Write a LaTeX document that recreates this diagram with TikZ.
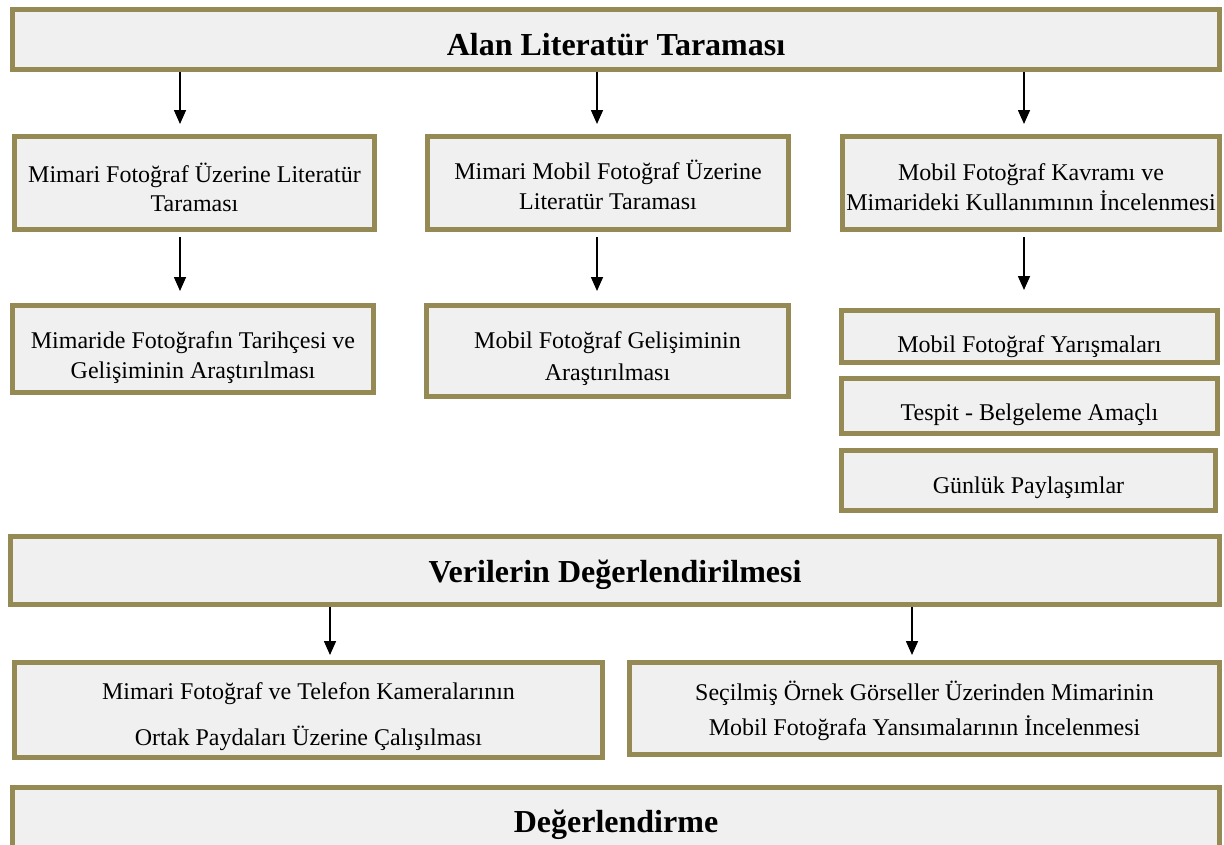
\documentclass[tikz,border=0pt]{standalone}
\usepackage{fontspec}
\setmainfont{Liberation Serif}
\usepackage{tikz}
\usetikzlibrary{arrows.meta}
\definecolor{frameolive}{RGB}{150,138,84}
\definecolor{boxgray}{RGB}{240,240,240}
\newcommand{\boxtext}[2]{\raisebox{-#1}[\height][\depth]{\begin{tabular}{@{}c@{}}#2\end{tabular}}}
\tikzset{
	box/.style={draw=frameolive,line width=5pt,fill=boxgray,inner sep=0pt,font=\fontsize{24}{31}\selectfont},
	headbox/.style={box,font=\fontsize{32}{38}\selectfont\bfseries},
	arr/.style={-{Triangle[width=12pt,length=14pt]},line width=1.6pt}
}

\begin{document}
\begin{tikzpicture}[x=1pt,y=-1pt]
						\useasboundingbox (0,0) rectangle (1224,844);
						\coordinate (cA) at (180,0);
						\coordinate (cB) at (597,0);
						\coordinate (cC) at (1024,0);
						\coordinate (cD) at (330,0);
						\coordinate (cE) at (912,0);
						
						\node [headbox,minimum width=1207pt,minimum height=60pt] (alan) at (616,39.5) {\boxtext{7.9pt}{Alan Literatür Taraması}};
						
						\node [box,font=\fontsize{24}{29}\selectfont,minimum width=360pt,minimum height=93pt] (mimlit) at (194.5,183) {\boxtext{7.7pt}{Mimari Fotoğraf Üzerine Literatür\\Taraması}};
						\node [box,font=\fontsize{24}{30}\selectfont,minimum width=361pt,minimum height=93pt] (mobmimlit) at (608,183) {\boxtext{5.3pt}{Mimari Mobil Fotoğraf Üzerine\\Literatür Taraması}};
						\node [box,font=\fontsize{24}{30}\selectfont,minimum width=377pt,minimum height=93pt] (kavram) at (1031,183) {\boxtext{6pt}{Mobil Fotoğraf Kavramı ve\\Mimarideki Kullanımının İncelenmesi}};
						
						\node [box,font=\fontsize{24}{30}\selectfont,minimum width=361pt,minimum height=87pt] (tarihce) at (193,349) {\boxtext{8pt}{Mimaride Fotoğrafın Tarihçesi ve\\Gelişiminin Araştırılması}};
						\node [box,font=\fontsize{24}{32}\selectfont,minimum width=362pt,minimum height=91pt] (gelisim) at (607.5,351) {\boxtext{6.9pt}{Mobil Fotoğraf Gelişiminin\\Araştırılması}};
						\node [box,minimum width=376pt,minimum height=52pt] (yarisma) at (1029.5,336.5) {\boxtext{9.3pt}{Mobil Fotoğraf Yarışmaları}};
						\node [box,minimum width=376pt,minimum height=55pt] (tespit) at (1029.5,406) {\boxtext{7.8pt}{Tespit - Belgeleme Amaçlı}};
						\node [box,minimum width=374pt,minimum height=60pt] (gunluk) at (1028.5,480.5) {\boxtext{6.3pt}{Günlük Paylaşımlar}};
						
						\node [headbox,minimum width=1209pt,minimum height=68pt] (veri) at (615,570.5) {\boxtext{3.9pt}{Verilerin Değerlendirilmesi}};
						
						\node [box,font=\fontsize{24}{46}\selectfont,minimum width=588pt,minimum height=95pt] (ortak) at (308.5,710) {\boxtext{3.5pt}{Mimari Fotoğraf ve Telefon Kameralarının\\Ortak Paydaları Üzerine Çalışılması}};
						\node [box,font=\fontsize{24}{35}\selectfont,minimum width=590pt,minimum height=92pt] (secilmis) at (924.5,708.5) {\boxtext{2.6pt}{Seçilmiş Örnek Görseller Üzerinden Mimarinin\\Mobil Fotoğrafa Yansımalarının İncelenmesi}};
						
						\node [headbox,minimum width=1207pt,minimum height=65pt] (deger) at (616,820) {\boxtext{5pt}{Değerlendirme}};
						
						\draw [arr,shorten >=10pt] (alan.south -| cA) -- (mimlit.north -| cA);
						\draw [arr,shorten >=10pt] (alan.south -| cB) -- (mobmimlit.north -| cB);
						\draw [arr,shorten >=10pt] (alan.south -| cC) -- (kavram.north -| cC);
						\draw [arr,shorten <=5pt,shorten >=12pt] (mimlit.south -| cA) -- (tarihce.north -| cA);
						\draw [arr,shorten <=5pt,shorten >=12pt] (mobmimlit.south -| cB) -- (gelisim.north -| cB);
						\draw [arr,shorten <=5pt,shorten >=18pt] (kavram.south -| cC) -- (yarisma.north -| cC);
						\draw [arr,shorten >=5pt] (veri.south -| cD) -- (ortak.north -| cD);
						\draw [arr,shorten >=5pt] (veri.south -| cE) -- (secilmis.north -| cE);
					\end{tikzpicture}
\end{document}
